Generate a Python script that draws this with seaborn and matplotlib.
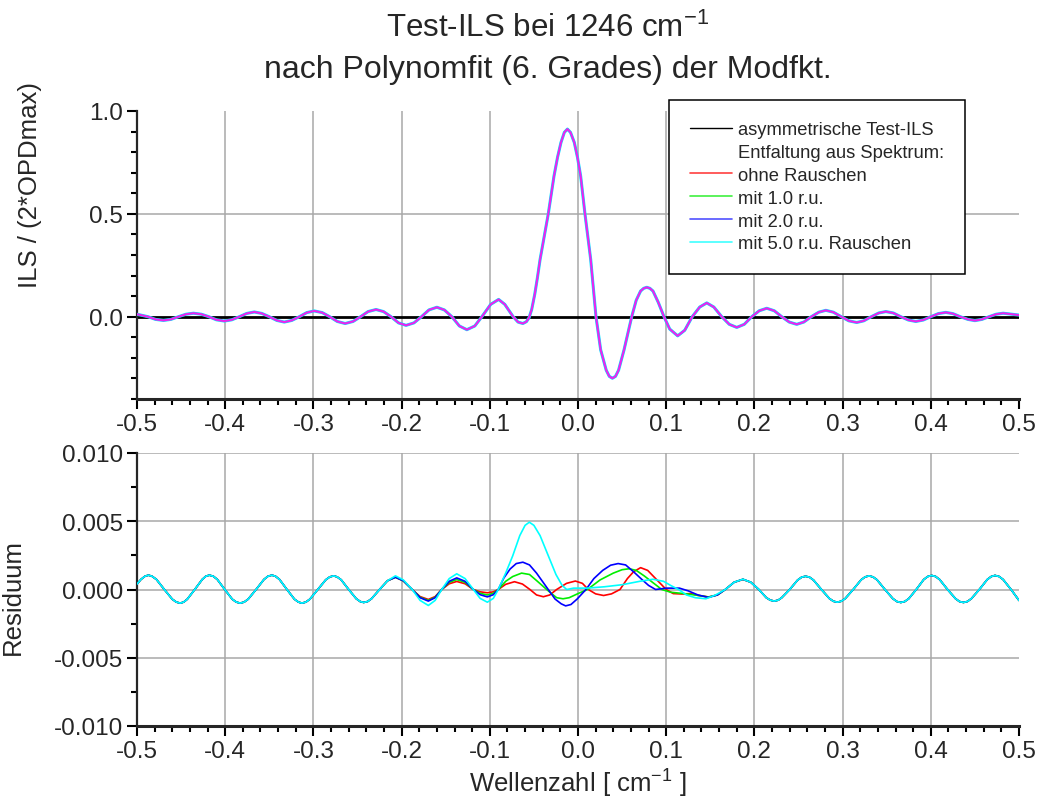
import numpy as np
import pandas as pd
import matplotlib
matplotlib.use("Agg")
import matplotlib.pyplot as plt
import seaborn as sns
from matplotlib.lines import Line2D
from matplotlib.ticker import MultipleLocator, FormatStrFormatter

# ---------------- data ----------------
ils_x = [-0.500, -0.4875, -0.479, -0.470, -0.4615, -0.453, -0.4445, -0.436, -0.427, -0.4185,
         -0.410, -0.401, -0.3925, -0.384, -0.3755, -0.367, -0.3585, -0.350, -0.3415, -0.333,
         -0.3245, -0.316, -0.3075, -0.299, -0.290, -0.2815, -0.273, -0.264, -0.255, -0.2465,
         -0.238, -0.229, -0.2205, -0.212, -0.2035, -0.195, -0.186, -0.1775, -0.169, -0.160,
         -0.1515, -0.143, -0.1345, -0.126, -0.117, -0.109, -0.099, -0.090, -0.083, -0.0735,
         -0.068, -0.0625, -0.0585, -0.0555, -0.0525, -0.049, -0.046, -0.043, -0.0337, -0.0272,
         -0.0232, -0.0193, -0.0155, -0.012, -0.0085, -0.0042, -0.0006, 0.003, 0.0079, 0.0144,
         0.0204, 0.0257, 0.032, 0.0355, 0.039, 0.0425, 0.046, 0.0522, 0.0609, 0.066,
         0.071, 0.0745, 0.078, 0.0815, 0.085, 0.091, 0.0975, 0.104, 0.113, 0.121,
         0.1295, 0.138, 0.146, 0.154, 0.163, 0.1715, 0.180, 0.1885, 0.197, 0.2055,
         0.214, 0.2225, 0.231, 0.2395, 0.248, 0.256, 0.2645, 0.273, 0.281, 0.2895,
         0.2985, 0.307, 0.316, 0.324, 0.3325, 0.341, 0.349, 0.3575, 0.366, 0.3745,
         0.383, 0.3915, 0.400, 0.4085, 0.417, 0.425, 0.4335, 0.442, 0.450, 0.458,
         0.466, 0.474, 0.482, 0.490, 0.500]
ils_y = [0.012, 0.0, -0.013, -0.018, -0.013, 0.0, 0.012, 0.017, 0.012, 0.0,
         -0.015, -0.021, -0.015, 0.0, 0.016, 0.023, 0.016, 0.0, -0.018, -0.026,
         -0.018, 0.0, 0.020, 0.028, 0.020, 0.0, -0.023, -0.033, -0.023, 0.0,
         0.025, 0.035, 0.025, 0.0, -0.030, -0.042, -0.030, 0.0, 0.033, 0.046,
         0.033, 0.0, -0.045, -0.063, -0.045, 0.0, 0.060, 0.084, 0.060, 0.0,
         -0.026, -0.033, -0.024, -0.005, 0.035, 0.11, 0.19, 0.278, 0.5, 0.684,
         0.775, 0.847, 0.896, 0.912, 0.896, 0.847, 0.775, 0.684, 0.5, 0.278,
         0.0, -0.161, -0.26, -0.29, -0.299, -0.29, -0.26, -0.161, 0.0, 0.08,
         0.125, 0.138, 0.143, 0.138, 0.125, 0.07, 0.0, -0.06, -0.093, -0.066,
         0.0, 0.047, 0.067, 0.047, 0.0, -0.037, -0.052, -0.037, 0.0, 0.029,
         0.041, 0.029, 0.0, -0.026, -0.037, -0.026, 0.0, 0.022, 0.031, 0.022,
         0.0, -0.020, -0.028, -0.020, 0.0, 0.018, 0.025, 0.018, 0.0, -0.016,
         -0.023, -0.016, 0.0, 0.015, 0.021, 0.015, 0.0, -0.013, -0.019, -0.013,
         0.0, 0.012, 0.017, 0.013, 0.008]

# residual: common outer parts (identical for all four deconvolutions)
res_left_x = [-0.500, -0.4955, -0.491, -0.487, -0.483, -0.478, -0.469, -0.460, -0.4555, -0.451,
              -0.447, -0.443, -0.4345, -0.426, -0.422, -0.418, -0.4135, -0.409, -0.4005, -0.392,
              -0.3875, -0.383, -0.3785, -0.374, -0.365, -0.356, -0.3515, -0.347, -0.343, -0.3385,
              -0.330, -0.3215, -0.317, -0.313, -0.3085, -0.304, -0.295, -0.286, -0.2815, -0.277,
              -0.273, -0.2685, -0.260, -0.2515, -0.247, -0.243, -0.2385, -0.234, -0.225, -0.216]
res_left_y = [0.0004, 0.00074, 0.00097, 0.00105, 0.00097, 0.00074, 0.0, -0.00071, -0.00092, -0.0010,
              -0.00092, -0.00071, 0.0, 0.00074, 0.00097, 0.00105, 0.00097, 0.00074, 0.0, -0.00071,
              -0.00092, -0.0010, -0.00092, -0.00071, 0.0, 0.00074, 0.00097, 0.00105, 0.00097, 0.00074,
              0.0, -0.00071, -0.00092, -0.0010, -0.00092, -0.00071, 0.0, 0.00071, 0.00092, 0.0010,
              0.00092, 0.00071, 0.0, -0.00067, -0.00088, -0.00095, -0.00088, -0.00067, 0.0, 0.00064]
res_right_x = [0.196, 0.205, 0.2135, 0.218, 0.2225, 0.227, 0.231, 0.240, 0.249, 0.2535,
               0.258, 0.2625, 0.267, 0.276, 0.285, 0.2895, 0.294, 0.2985, 0.303, 0.312,
               0.321, 0.3255, 0.330, 0.3345, 0.339, 0.348, 0.357, 0.3615, 0.366, 0.3705,
               0.375, 0.3835, 0.392, 0.3965, 0.401, 0.4055, 0.410, 0.419, 0.428, 0.4325,
               0.437, 0.4415, 0.446, 0.455, 0.464, 0.4685, 0.4728, 0.4775, 0.482, 0.491,
               0.500]
res_right_y = [0.00053, 0.0, -0.0006, -0.00078, -0.00085, -0.00078, -0.0006, 0.0, 0.00069, 0.0009,
               0.00097, 0.0009, 0.00069, 0.0, -0.00066, -0.00086, -0.00093, -0.00086, -0.00066, 0.0,
               0.00071, 0.00092, 0.0010, 0.00092, 0.00071, 0.0, -0.00067, -0.00088, -0.00095, -0.00088,
               -0.00067, 0.0, 0.00073, 0.00095, 0.00103, 0.00095, 0.00073, 0.0, -0.00067, -0.00088,
               -0.00095, -0.00088, -0.00067, 0.0, 0.00073, 0.00095, 0.00103, 0.00095, 0.00073, 0.0,
               -0.0008]

# residual: central parts, one per series
red_cx = [-0.207, -0.198, -0.188, -0.179, -0.1697, -0.162, -0.1545, -0.146, -0.1375, -0.128,
          -0.1187, -0.111, -0.1028, -0.096, -0.0904, -0.082, -0.072, -0.063, -0.0545, -0.047,
          -0.0393, -0.032, -0.0242, -0.013, -0.003, 0.005, 0.0117, 0.020, 0.029, 0.038,
          0.0476, 0.056, 0.063, 0.071, 0.079, 0.088, 0.100, 0.108, 0.118, 0.128,
          0.135, 0.148, 0.158, 0.167, 0.177, 0.187]
red_cy = [0.0009, 0.00063, 0.0, -0.00052, -0.00073, -0.00052, 0.0, 0.00042, 0.00059, 0.00042,
          0.0, -0.00017, -0.00024, -0.00017, 0.0, 0.00038, 0.00057, 0.0004, 0.0, -0.0004,
          -0.00053, -0.0004, 0.0, 0.00045, 0.00062, 0.00045, 0.0, -0.00032, -0.00044, -0.00032,
          0.0, 0.0008, 0.0013, 0.0016, 0.0014, 0.0008, 0.0, -0.0003, -0.00033, -0.0003,
          -0.00042, -0.00055, -0.0004, 0.0, 0.00053, 0.00073]
green_cx = [-0.207, -0.198, -0.188, -0.179, -0.1697, -0.162, -0.1545, -0.146, -0.1375, -0.128,
            -0.1187, -0.111, -0.1028, -0.096, -0.0904, -0.082, -0.074, -0.064, -0.055, -0.046,
            -0.0355, -0.030, -0.0242, -0.017, -0.010, 0.0, 0.0107, 0.025, 0.040, 0.050,
            0.058, 0.066, 0.075, 0.085, 0.095, 0.105, 0.120, 0.135, 0.148, 0.158,
            0.167, 0.177, 0.187]
green_cy = [0.0009, 0.00063, 0.0, -0.00057, -0.0008, -0.00057, 0.0, 0.00052, 0.00073, 0.00052,
            0.0, -0.00028, -0.0004, -0.00028, 0.0, 0.0006, 0.00095, 0.0012, 0.0011, 0.0006,
            0.0, -0.0003, -0.0006, -0.00068, -0.0006, -0.0003, 0.0, 0.0007, 0.0012, 0.00145,
            0.00152, 0.0014, 0.0010, 0.0005, 0.0, -0.0002, -0.0003, -0.00042, -0.00055, -0.0004,
            0.0, 0.00053, 0.00075]
blue_cx = [-0.207, -0.198, -0.188, -0.179, -0.1697, -0.162, -0.1545, -0.146, -0.1375, -0.128,
           -0.1187, -0.111, -0.1028, -0.096, -0.0904, -0.084, -0.077, -0.070, -0.0625, -0.055,
           -0.047, -0.0337, -0.026, -0.019, -0.014, -0.008, -0.001, 0.009, 0.018, 0.028,
           0.037, 0.0455, 0.054, 0.063, 0.073, 0.080, 0.088, 0.100, 0.115, 0.125,
           0.136, 0.148, 0.158, 0.167, 0.177, 0.187]
blue_cy = [0.0009, 0.00064, 0.0, -0.0006, -0.00085, -0.0006, 0.0, 0.0006, 0.00085, 0.0006,
           0.0, -0.00038, -0.00054, -0.00038, 0.0, 0.00085, 0.0015, 0.0019, 0.0020, 0.0018,
           0.0012, 0.0, -0.0007, -0.00105, -0.0012, -0.0011, -0.0007, 0.0, 0.0008, 0.0014,
           0.00178, 0.0019, 0.0018, 0.0013, 0.0007, 0.0003, 0.0, 0.0001, 0.0001, -0.0001,
           -0.0004, -0.00058, -0.0004, 0.0, 0.00053, 0.00075]
cyan_cx = [-0.207, -0.198, -0.188, -0.179, -0.1697, -0.162, -0.1545, -0.146, -0.1375, -0.128,
           -0.1187, -0.111, -0.1028, -0.096, -0.0904, -0.082, -0.074, -0.066, -0.060, -0.0552,
           -0.050, -0.043, -0.0337, -0.025, -0.018, -0.0128, -0.005, 0.010, 0.030, 0.050,
           0.070, 0.085, 0.097, 0.105, 0.114, 0.123, 0.133, 0.145, 0.156, 0.167,
           0.177, 0.187]
cyan_cy = [0.0010, 0.0007, 0.0, -0.0008, -0.00117, -0.0008, 0.0, 0.0008, 0.00115, 0.0008,
           0.0, -0.00065, -0.00093, -0.00065, 0.0, 0.0012, 0.00247, 0.00395, 0.0047, 0.00493,
           0.0047, 0.00395, 0.00247, 0.0011, 0.0003, 0.0, 0.0001, 0.0001, 0.0002, 0.00035,
           0.0006, 0.00075, 0.0006, 0.0003, 0.0, -0.0004, -0.0006, -0.00068, -0.0004, 0.0,
           0.00053, 0.00075]

legend_labels = ["asymmetrische Test-ILS", "Entfaltung aus Spektrum:", "ohne Rauschen",
                 "mit 1.0 r.u.", "mit 2.0 r.u.", "mit 5.0 r.u. Rauschen"]
series_colors = {"ohne Rauschen": "#ff0000", "mit 1.0 r.u.": "#00ee00",
                 "mit 2.0 r.u.": "#0000ff", "mit 5.0 r.u. Rauschen": "#00ffff"}
x_ticks = [-0.5, -0.4, -0.3, -0.2, -0.1, 0.0, 0.1, 0.2, 0.3, 0.4, 0.5]

# ---------------- style ----------------
sns.set_style("ticks")
plt.rcParams['font.family'] = ['Liberation Sans', 'DejaVu Sans']
plt.rcParams['mathtext.fontset'] = 'custom'
plt.rcParams['mathtext.rm'] = 'Liberation Sans'
plt.rcParams['mathtext.it'] = 'Liberation Sans:italic'
plt.rcParams['mathtext.bf'] = 'Liberation Sans:bold'
plt.rcParams['axes.unicode_minus'] = False

W, H = 1037, 804
fig = plt.figure(figsize=(W / 100, H / 100), dpi=100)
L, R = 137, 1019
ax1 = fig.add_axes([L / W, 1 - 400 / H, (R - L) / W, (400 - 112) / H])
ax2 = fig.add_axes([L / W, 1 - 727 / H, (R - L) / W, (727 - 454) / H])

grid_kw = dict(color="#a8a8a8", lw=1.1, zorder=0)
TICK_FS = 17.5
LABEL_FS = 18.5

for ax in (ax1, ax2):
    ax.set_xlim(-0.5, 0.5)
    for xv in x_ticks[1:-1]:
        ax.axvline(xv, **grid_kw)
    ax.spines['top'].set_visible(False)
    ax.spines['right'].set_visible(False)
    ax.spines['left'].set_linewidth(1.6)
    ax.spines['bottom'].set_linewidth(2.2)
    ax.set_xticks(x_ticks)
    ax.xaxis.set_minor_locator(MultipleLocator(0.02))
    ax.xaxis.set_major_formatter(FormatStrFormatter('%.1f'))
    ax.tick_params(which='major', direction='out', length=7, width=1.5,
                   labelsize=TICK_FS, pad=3, color='black')
    ax.tick_params(which='minor', direction='out', length=4, width=1.5, color='black')
    ax.set_facecolor('white')

# ---- top panel ----
ax1.set_ylim(-0.4, 1.0)
ax1.axhline(0.5, **grid_kw)
ax1.axhline(0.0, color='black', lw=2.0, zorder=1)
sns.lineplot(x=ils_x, y=ils_y, ax=ax1, color='black', lw=1.0, sort=False,
             estimator=None, legend=False, zorder=2)
sns.lineplot(x=ils_x, y=ils_y, ax=ax1, color='#00e8ff', lw=2.2, sort=False,
             estimator=None, legend=False, zorder=3)
sns.lineplot(x=ils_x, y=ils_y, ax=ax1, color='#ee22ee', lw=1.5, sort=False,
             estimator=None, legend=False, zorder=4)
ax1.set_yticks([0.0, 0.5, 1.0])
ax1.yaxis.set_minor_locator(MultipleLocator(0.1))
ax1.yaxis.set_major_formatter(FormatStrFormatter('%.1f'))
ax1.set_ylabel("ILS / (2*OPDmax)", fontsize=LABEL_FS)
ax1.yaxis.set_label_coords(-0.108, 0.745)

handles = [Line2D([], [], color='black', lw=1.0),
           Line2D([], [], color='none', lw=1.0),
           Line2D([], [], color='#ff4040', lw=1.2),
           Line2D([], [], color='#40f040', lw=1.2),
           Line2D([], [], color='#5050ff', lw=1.2),
           Line2D([], [], color='#40ffff', lw=1.2)]
leg = ax1.legend(handles, legend_labels, loc='upper left',
                 bbox_to_anchor=(669 / W, 1 - 101 / H), bbox_transform=fig.transFigure,
                 fontsize=13.2, frameon=True, fancybox=False, framealpha=1,
                 edgecolor='black', handlelength=2.3, handletextpad=0.3,
                 labelspacing=0.32, borderpad=1.15, borderaxespad=0)
leg.get_frame().set_linewidth(1.1)

# ---- bottom panel ----
ax2.set_ylim(-0.010, 0.010)
for yv in [0.010, 0.005, 0.0, -0.005]:
    ax2.axhline(yv, **grid_kw)
centers = {"ohne Rauschen": (red_cx, red_cy), "mit 1.0 r.u.": (green_cx, green_cy),
           "mit 2.0 r.u.": (blue_cx, blue_cy), "mit 5.0 r.u. Rauschen": (cyan_cx, cyan_cy)}
for z, (name, (cx, cy)) in enumerate(centers.items()):
    xs = res_left_x + cx + res_right_x
    ys = res_left_y + cy + res_right_y
    sns.lineplot(x=xs, y=ys, ax=ax2, color=series_colors[name], lw=1.2, sort=False,
                 estimator=None, legend=False, zorder=3 + z)
ax2.set_yticks([-0.010, -0.005, 0.0, 0.005, 0.010])
ax2.yaxis.set_minor_locator(MultipleLocator(0.0025))
ax2.yaxis.set_major_formatter(FormatStrFormatter('%.3f'))
ax2.set_ylabel("Residuum", fontsize=LABEL_FS)
ax2.yaxis.set_label_coords(-0.127, 0.475)
ax2.set_xlabel(r"Wellenzahl [ cm$^{-1}$ ]", fontsize=LABEL_FS)
ax2.xaxis.set_label_coords(0.5, -0.15)

# ---- title ----
fig.text(548 / W, 1 - 37 / H, r"Test-ILS bei 1246 cm$^{-1}$", ha='center', va='baseline',
         fontsize=22.5)
fig.text(548 / W, 1 - 78 / H, "nach Polynomfit (6. Grades) der Modfkt.", ha='center',
         va='baseline', fontsize=23)

fig.savefig("out.png", dpi=100, facecolor='white')
